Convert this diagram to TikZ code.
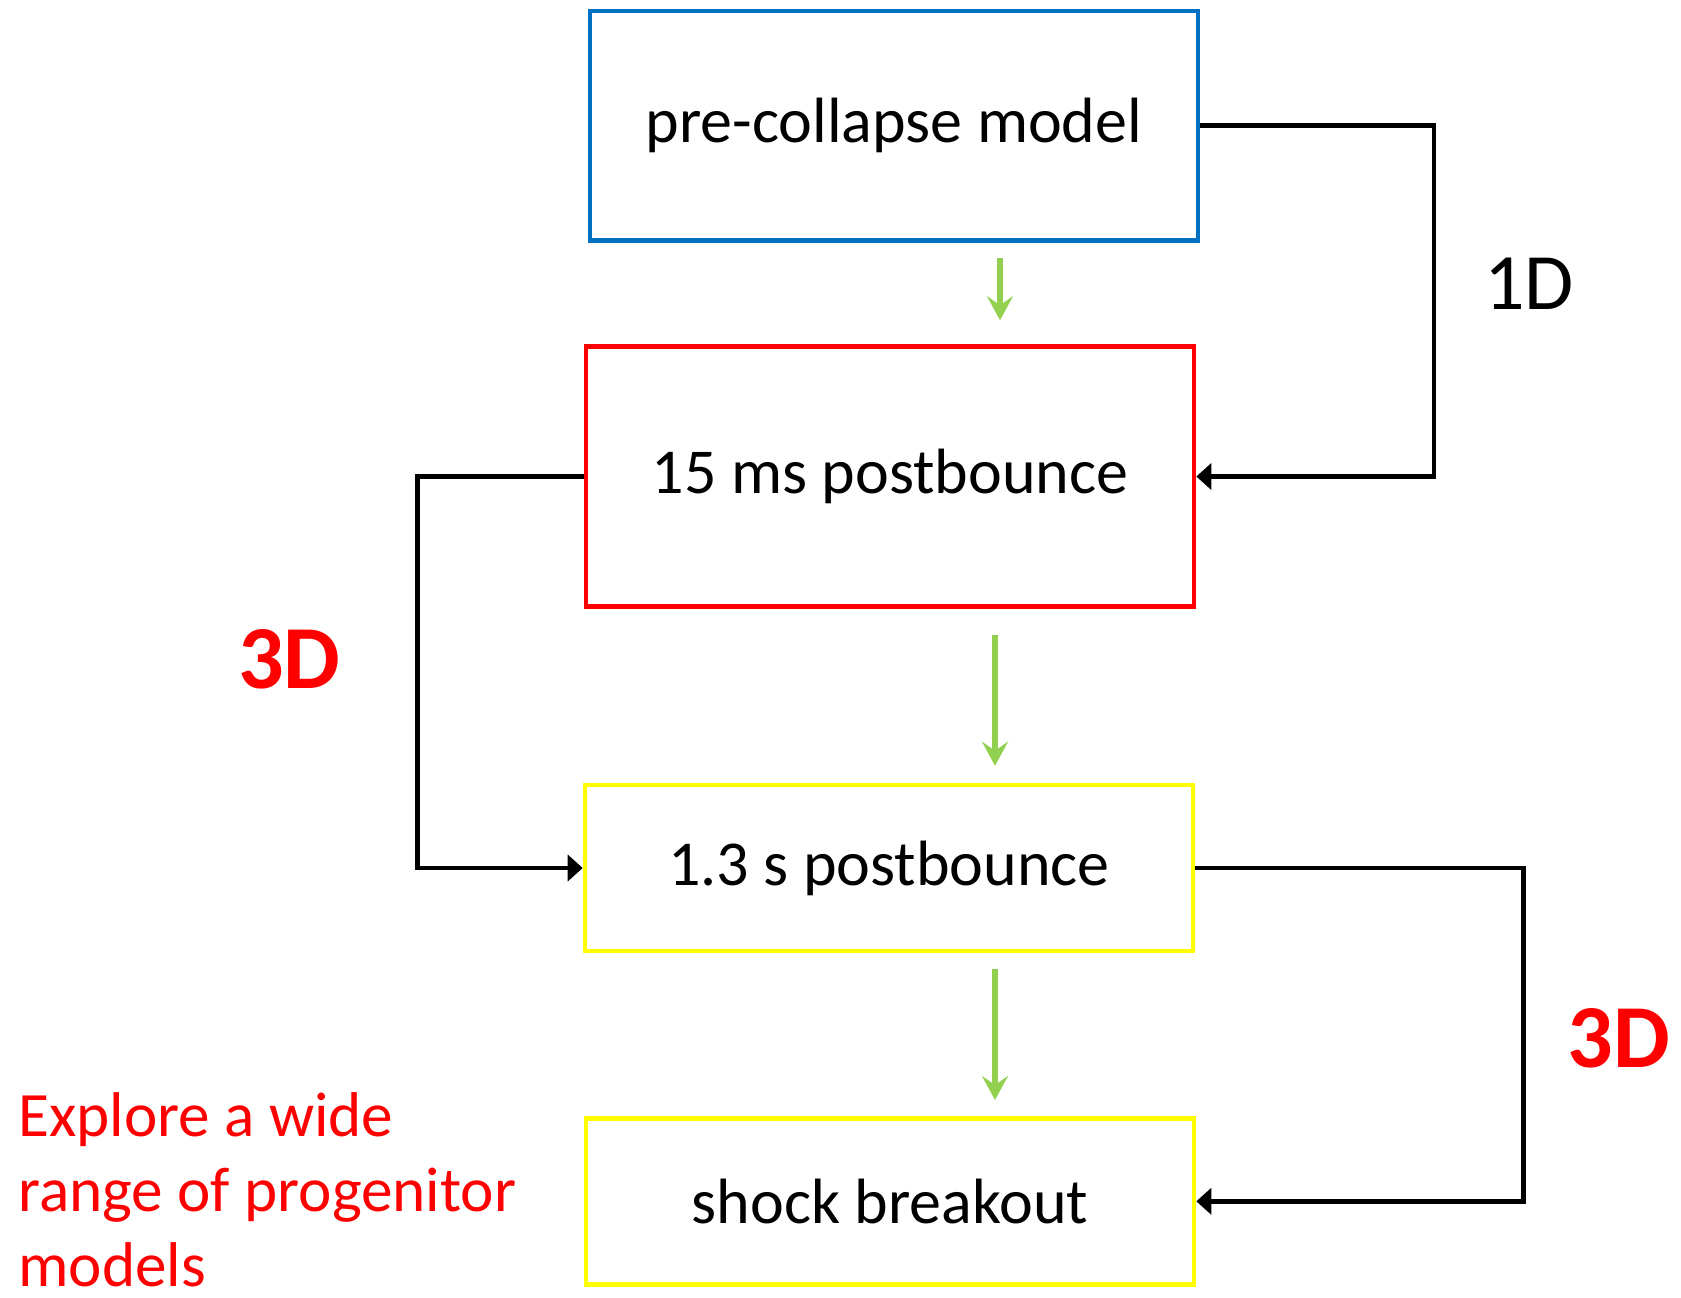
\documentclass[tikz,border=0pt]{standalone}
\usepackage{fontspec}
\setmainfont{Carlito}
\usepackage{xcolor}
\usetikzlibrary{arrows.meta}
\definecolor{boxblue}{HTML}{0070C0}
\definecolor{boxred}{HTML}{FF0000}
\definecolor{boxyellow}{HTML}{FFFF00}
\definecolor{flowgreen}{HTML}{92D050}

\begin{document}
\begin{tikzpicture}[x=0.5pt,y=-0.5pt]
\tikzset{>={Triangle[width=13pt,length=7.5pt]}}
\tikzstyle{stage} =[draw, line width=2.3pt, inner sep=0pt, minimum width=304pt, font=\fontsize{32}{38}\selectfont]
\tikzstyle{flow} =[draw=flowgreen, line width=2.8pt, -{Stealth[width=13pt,length=12pt,inset=4.5pt]}]
\tikzstyle{link} =[->, line width=2.3pt]

\useasboundingbox (0,0) rectangle (1681,1297);

\node[stage,draw=boxblue,minimum height=114.7pt](pre) at (894,125.5){pre-collapse model};
\node[stage,draw=boxred,minimum height=130pt](ms15) at (890,476.5){15 ms postbounce};
\node[stage,draw=boxyellow,minimum height=83pt](s13) at (889,868){1.3 s postbounce};
\node[stage,draw=boxyellow,minimum height=83pt](sbo) at (890,1201.3){shock breakout};

\node[font=\fontsize{40}{48}\selectfont](oneD) at (1529,284){1D};
\node[font=\fontsize{45}{54}\selectfont\bfseries,text=boxred](threeDa) at (289.5,659){3D};
\node[font=\fontsize{45}{54}\selectfont\bfseries,text=boxred](threeDb) at (1619,1038){3D};
\node[anchor=west,align=left,inner sep=0pt,text=boxred,font=\fontsize{31.6}{37.5}\selectfont](note) at (18,1190){Explore a wide\\range of progenitor\\models};

\draw[link] (pre.east) -- ++(233.5,0) |- (ms15.east);
\draw[link] (ms15.west) -- ++(-166,0) |- (s13.west);
\draw[link] (s13.east) -- ++(328,0) |- (sbo.east);

\draw[flow,shorten <=7.5pt,shorten >=12pt] ([xshift=53pt]pre.south) -- ([xshift=53pt]pre.south |- ms15.north);
\draw[flow,shorten <=13pt,shorten >=8.5pt] ([xshift=52.5pt]ms15.south) -- ([xshift=52.5pt]ms15.south |- s13.north);
\draw[flow,shorten <=8pt,shorten >=8pt] ([xshift=53pt]s13.south) -- ([xshift=53pt]s13.south |- sbo.north);
\end{tikzpicture}
\end{document}
